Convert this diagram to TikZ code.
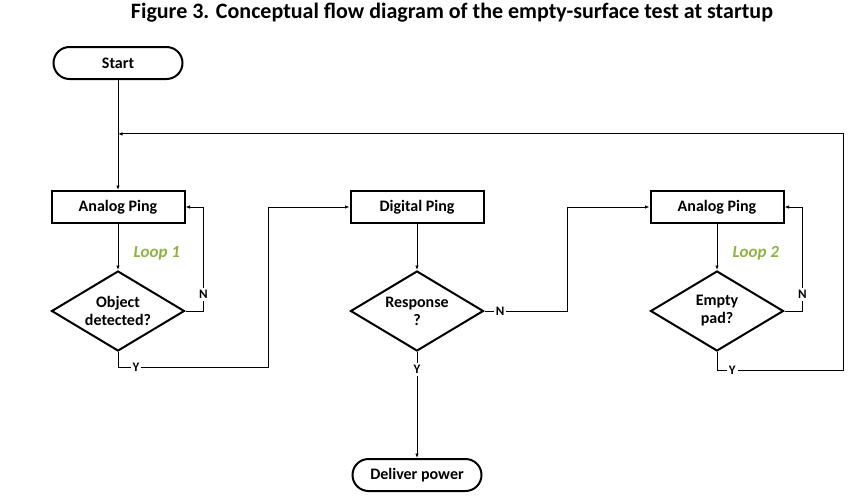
\documentclass[tikz,border=0pt]{standalone}
\usepackage{fontspec}
\setmainfont{Carlito}
\usepackage{tikz}
\usetikzlibrary{
  arrows.meta,
  calc,
  positioning,
  shapes.geometric,
  shapes.misc
}
\definecolor{flowLine}{HTML}{000000}
\definecolor{loopGreen}{HTML}{8DB43E}

\begin{document}
\begin{tikzpicture}[
  x=1pt, y=-1pt,
  font=\bfseries\fontsize{16}{18}\selectfont,
  box/.style={
    draw=flowLine,
    line width=2pt,
    minimum width=133pt,
    minimum height=32pt,
    inner sep=2pt,
    align=center
  },
  terminal/.style={box, rounded rectangle},
  decision/.style={box, diamond, aspect=1.66, minimum width=133pt, minimum height=80pt, inner sep=0pt},
  arrow/.style={
    -{Latex[length=4.5pt,width=3.5pt]},
    line width=1pt,
    draw=flowLine
  },
  tag/.style={fill=white, inner sep=2pt, font=\bfseries\fontsize{13}{15}\selectfont},
  looplabel/.style={text=loopGreen, font=\bfseries\itshape\fontsize{17}{19}\selectfont},
  title/.style={font=\bfseries\fontsize{22}{26}\selectfont}
]
\useasboundingbox (0,0) rectangle (867,501);

\node[title] (caption) at (452,13) {Figure 3. Conceptual flow diagram of the empty-surface test at startup};

% main column of nodes
\node[terminal] (start) at (118,63) {Start};
\node[box, below=110pt of start] (ping1) {Analog Ping};
\node[decision, below=46pt of ping1] (object) {Object\\detected?};
\node[box, right=164pt of ping1] (digital) {Digital Ping};
\node[decision, below=46pt of digital] (response) {Response\\?};
\node[terminal, below=106pt of response] (deliver) {Deliver power};
\node[box, right=165pt of digital] (ping2) {Analog Ping};
\node[decision, below=46pt of ping2] (empty) {Empty\\pad?};

\path (ping1.south) -- (object.north) node[looplabel, pos=0.63, right=12pt] (loop1) {Loop 1};
\path (ping2.south) -- (empty.north) node[looplabel, pos=0.63, right=12pt] (loop2) {Loop 2};

\coordinate (back) at ($(start.south)!0.49!(ping1.north)$);
\coordinate (mid) at ($(response.east)!0.5!(ping2.west)$);

\draw[arrow] (start) -- (ping1);
\draw[arrow] (ping1) -- (object);
\draw[arrow] (digital) -- (response);
\draw[arrow] (ping2) -- (empty);

% loop 1
\draw[arrow] (object.east) -| node[tag, pos=0.58] (n1) {N} ([xshift=18pt]ping1.east) -- (ping1.east);
\draw[arrow] (object.south) |- node[tag, pos=0.56] (y1) {Y} ($(digital.west)+(-81,160)$) |- (digital.west);

% response
\draw[arrow] (response.east) -- node[tag, pos=0.19] (n2) {N} (mid |- response.east) |- (ping2.west);
\draw[arrow] (response) -- node[tag, pos=0.165] (y2) {Y} (deliver);

% loop 2
\draw[arrow] (empty.east) -| node[tag, pos=0.58] (n3) {N} ([xshift=18pt]ping2.east) -- (ping2.east);
\draw[arrow] (empty.south) |- node[tag, pos=0.56] (y3) {Y} ($(empty.south)+(126,18)$) |- (back);

\end{tikzpicture}
\end{document}
